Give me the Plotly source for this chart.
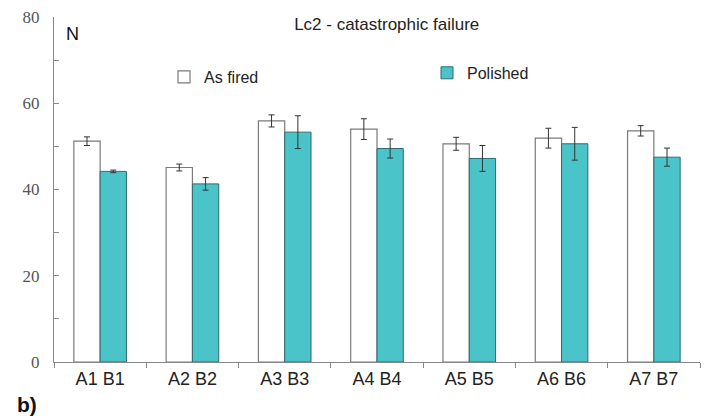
import plotly.graph_objects as go

categories = ["A1 B1", "A2 B2", "A3 B3", "A4 B4", "A5 B5", "A6 B6", "A7 B7"]
as_fired = [51.2, 45.1, 55.9, 54.0, 50.6, 51.9, 53.6]
as_fired_err = [1.0, 0.8, 1.4, 2.4, 1.5, 2.3, 1.2]
polished = [44.2, 41.3, 53.3, 49.5, 47.2, 50.6, 47.5]
polished_err = [0.3, 1.45, 3.8, 2.2, 3.0, 3.8, 2.1]
y_tickvals = [0, 10, 20, 30, 40, 50, 60, 70, 80]
y_ticktext = ["0", "", "20", "", "40", "", "60", "", "80"]

fig = go.Figure()
fig.add_trace(go.Bar(
    x=categories, y=as_fired, name="As fired",
    marker=dict(color="white", line=dict(color="#7a7a7a", width=1.2)),
    error_y=dict(type="data", array=as_fired_err, color="#333333", thickness=1, width=3),
    legend="legend", showlegend=True,
))
fig.add_trace(go.Bar(
    x=categories, y=polished, name="Polished",
    marker=dict(color="#4bc4c9", line=dict(color="#2e6b70", width=1)),
    error_y=dict(type="data", array=polished_err, color="#333333", thickness=1, width=3),
    legend="legend2", showlegend=True,
))

fig.update_layout(
    width=707, height=416,
    showlegend=True,
    margin=dict(l=54, r=7, t=17, b=54, autoexpand=False),
    paper_bgcolor="white", plot_bgcolor="white",
    barmode="group", bargap=0.43, bargroupgap=0,
    font=dict(family="Liberation Sans, Arial", size=14, color="#222222"),
    title=dict(text="Lc2 - catastrophic failure", x=0.547, xanchor="center",
               y=0.943, yanchor="middle", font=dict(size=17, color="#222222")),
    legend=dict(x=0.1703, y=0.826, xanchor="left", yanchor="middle",
                bgcolor="rgba(0,0,0,0)", font=dict(size=16, color="#222222"),
                itemwidth=30),
    legend2=dict(x=0.5774, y=0.838, xanchor="left", yanchor="middle",
                 bgcolor="rgba(0,0,0,0)", font=dict(size=16, color="#222222"),
                 itemwidth=30),
    xaxis=dict(showline=True, linecolor="#888888", linewidth=1, automargin=False,
               ticks="outside", tickson="boundaries", ticklen=5, tickcolor="#888888",
               tickfont=dict(size=18, color="#222222"), showgrid=False),
    yaxis=dict(range=[0, 80], showline=True, linecolor="#888888", linewidth=1,
               automargin=False,
               tickvals=y_tickvals, ticktext=y_ticktext,
               ticks="inside", ticklen=5, tickcolor="#888888", ticklabelstandoff=10,
               tickfont=dict(family="Liberation Serif", size=17, color="#555555"),
               showgrid=False, zeroline=False),
    annotations=[
        dict(text="N", x=0.0155, y=0.951, xref="paper", yref="paper", xanchor="left",
             yanchor="middle", showarrow=False, font=dict(size=18, color="#111111")),
        dict(text="<b>b)</b>", x=-0.060, y=-0.122, xref="paper", yref="paper",
             xanchor="left", yanchor="middle", showarrow=False,
             font=dict(size=21, color="#111111")),
    ],
)

fig.write_html("out.html", post_script="document.body.style.margin='0';",
               config={"displayModeBar": False})
